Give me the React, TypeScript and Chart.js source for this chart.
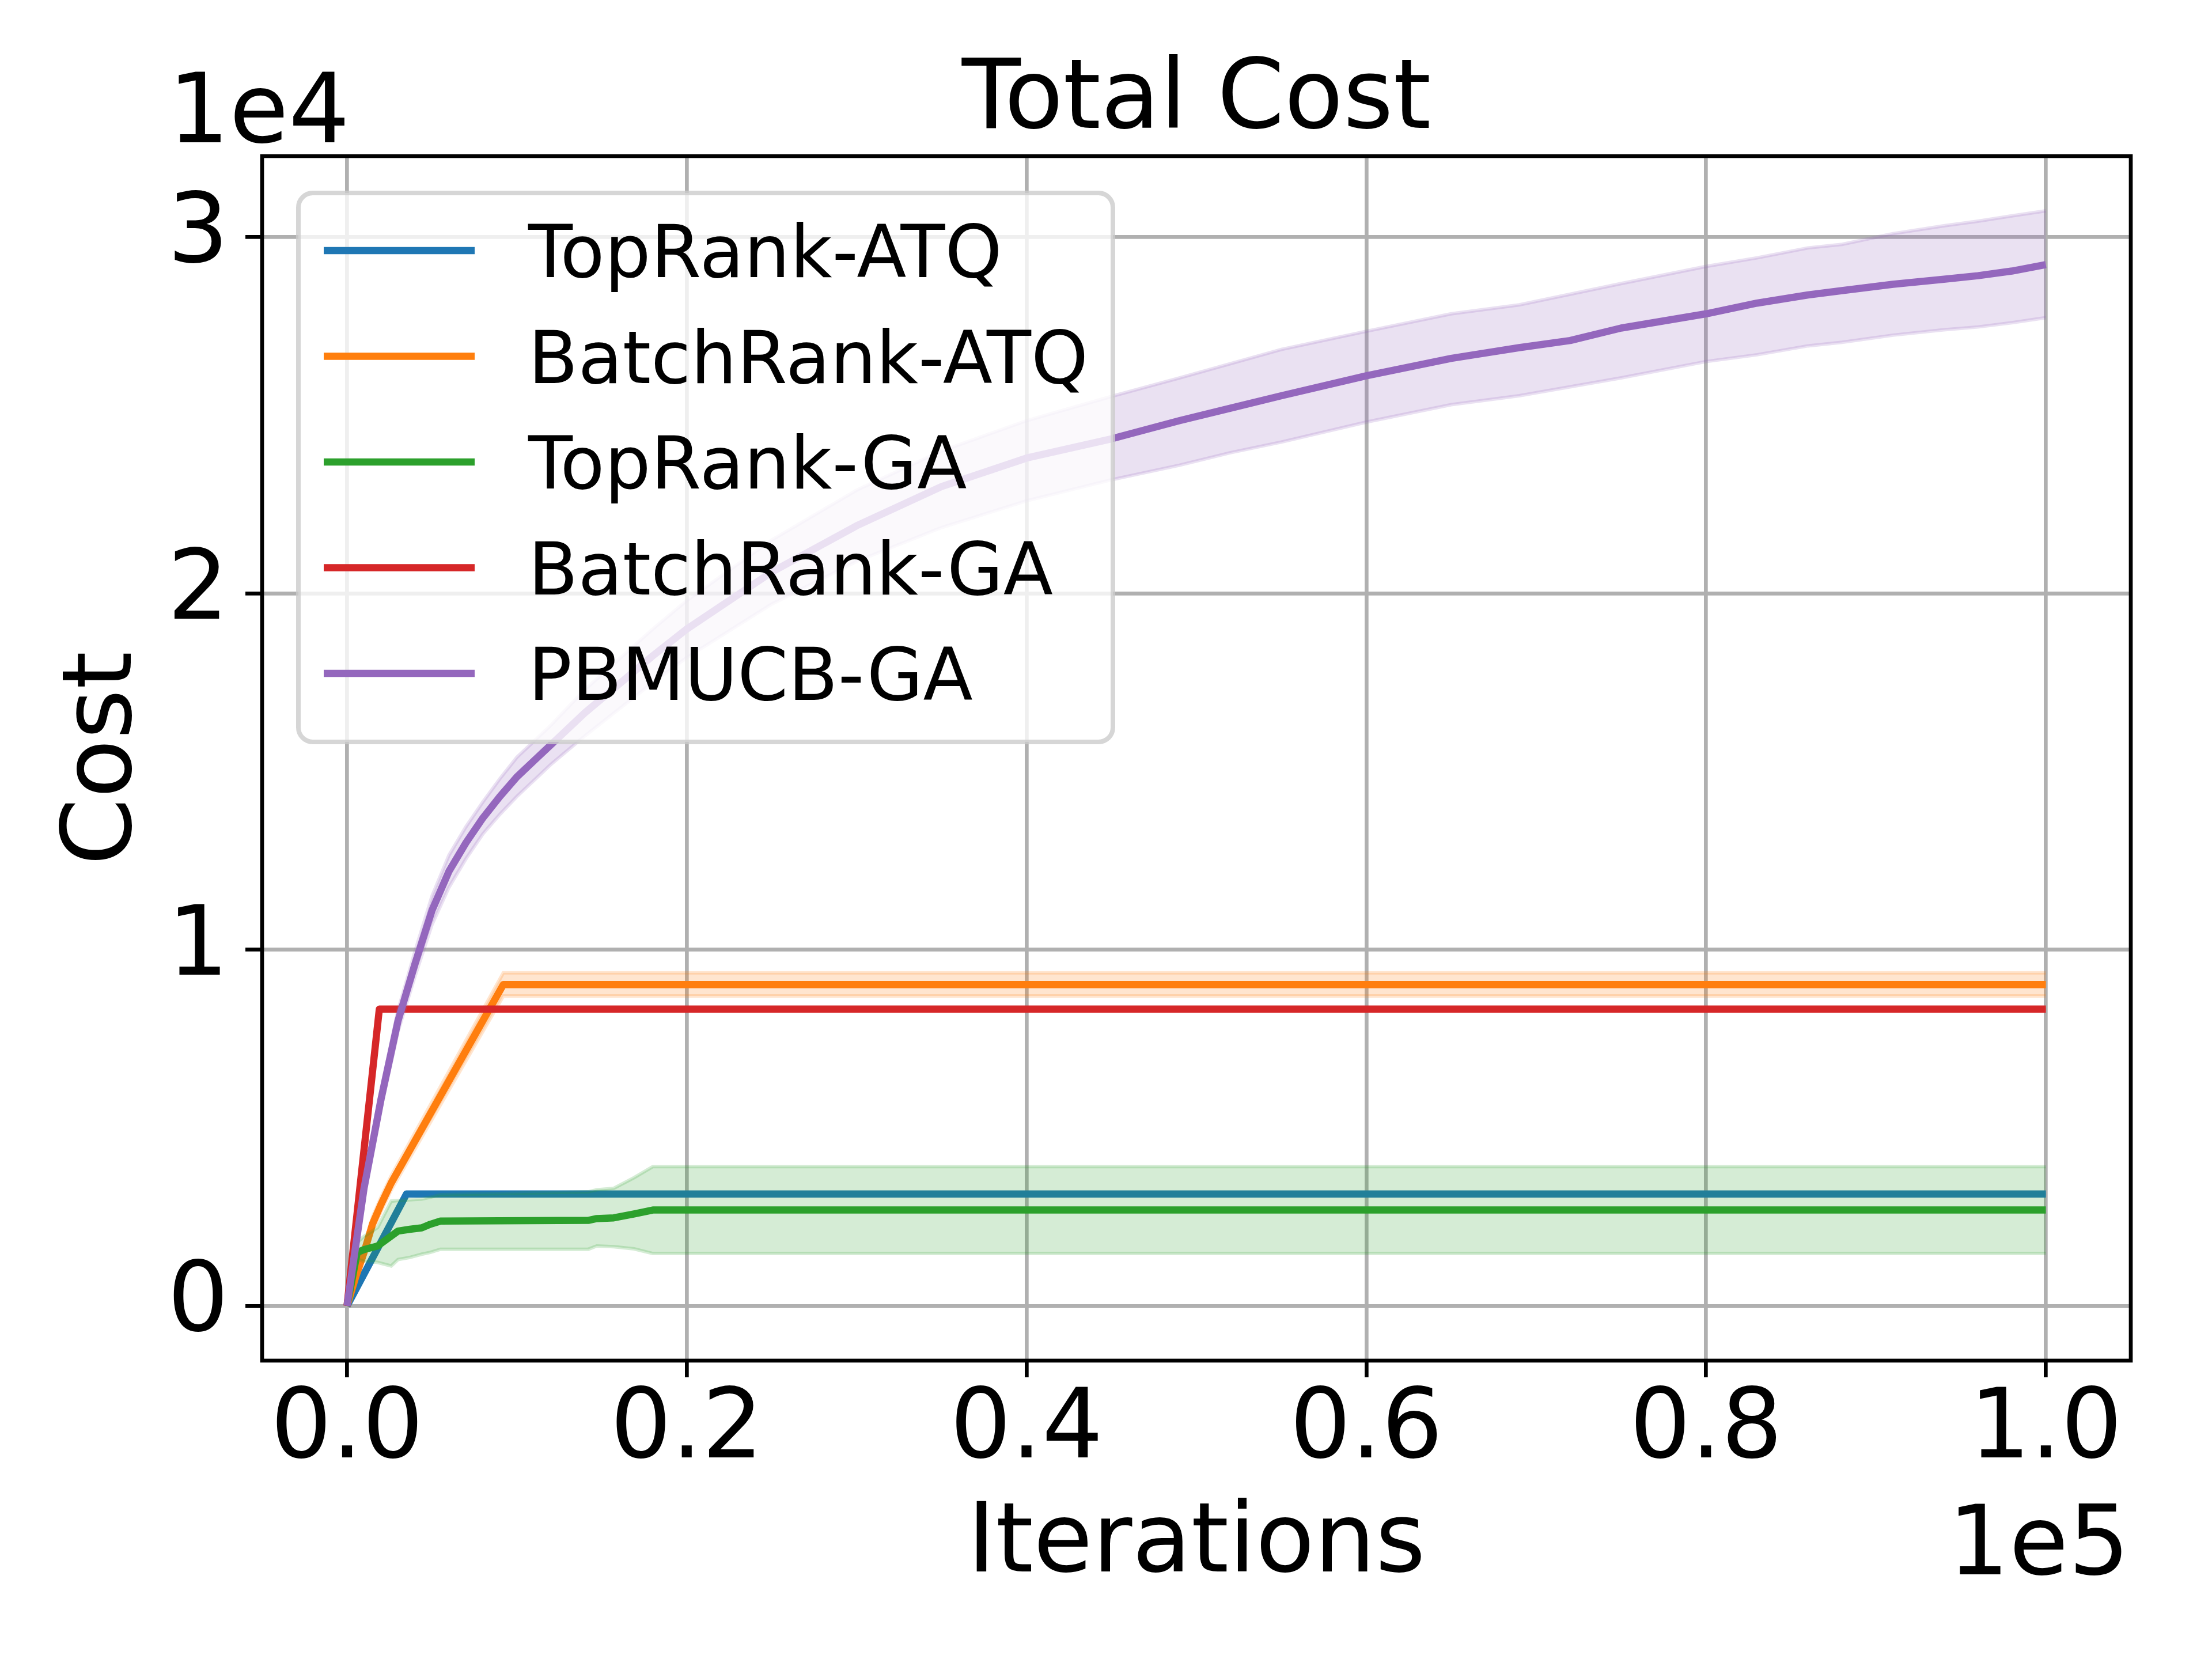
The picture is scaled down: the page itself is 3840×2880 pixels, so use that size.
import React, { useEffect, useRef } from "react";
import { Chart, registerables } from "chart.js";

Chart.register(...registerables);

const FONT = "'DejaVu Sans', 'Liberation Sans', sans-serif";

const LABELS = ["TopRank-ATQ", "BatchRank-ATQ", "TopRank-GA", "BatchRank-GA", "PBMUCB-GA"];
const COLORS = ["#1f77b4", "#ff7f0e", "#2ca02c", "#d62728", "#9467bd"];
const BAND_COLORS = [
  "rgba(31,119,180,0.2)",
  "rgba(255,127,14,0.2)",
  "rgba(44,160,44,0.2)",
  "rgba(214,39,40,0.2)",
  "rgba(148,103,189,0.2)",
];

const X_TICKS = [0, 20000, 40000, 60000, 80000, 100000];
const Y_TICKS = [0, 10000, 20000, 30000];

// TopRank-ATQ
const BLUE_X = [0, 3500, 100000];
const BLUE_MEAN = [0, 3140, 3140];
const BLUE_LOW = [0, 3115, 3115];
const BLUE_HIGH = [0, 3165, 3165];

// BatchRank-ATQ
const ORANGE_X = [0, 500, 1000, 1500, 2000, 2600, 9200, 100000];
const ORANGE_MEAN = [0, 800, 1500, 2300, 2850, 3450, 9020, 9020];
const ORANGE_LOW = [0, 700, 1350, 2100, 2650, 3250, 8700, 8700];
const ORANGE_HIGH = [0, 900, 1650, 2500, 3050, 3650, 9350, 9350];

// TopRank-GA
const GREEN_X = [0, 600, 1000, 1800, 2600, 3000, 3700, 4400, 4900, 5500, 14200, 14700, 15700, 16900, 18000, 100000];
const GREEN_MEAN = [0, 1500, 1580, 1680, 1960, 2100, 2150, 2190, 2290, 2380, 2400, 2450, 2470, 2580, 2690, 2690];
const GREEN_LOW = [0, 1310, 1250, 1220, 1120, 1300, 1360, 1450, 1500, 1590, 1590, 1680, 1660, 1600, 1470, 1470];
const GREEN_HIGH = [0, 1780, 1950, 2200, 2940, 2960, 2980, 3000, 3050, 3120, 3200, 3260, 3300, 3600, 3910, 3910];

// BatchRank-GA
const RED_X = [0, 1900, 100000];
const RED_MEAN = [0, 8330, 8330];
const RED_LOW = [0, 8310, 8310];
const RED_HIGH = [0, 8350, 8350];

// PBMUCB-GA
const PURPLE_X = [
  0, 500, 1000, 2000, 3000, 4000, 5000, 6000, 7000, 8000, 9000, 10000, 11000, 12000, 14000, 16000, 18000,
  20000, 25000, 30000, 35000, 40000, 45000, 49000, 52000, 55000, 60000, 65000, 69000, 72000, 75000, 80000,
  83000, 86000, 88000, 91000, 94000, 96000, 98000, 100000,
];
const PURPLE_MEAN = [
  0, 1650, 3300, 5800, 8000, 9600, 11100, 12200, 13000, 13700, 14300, 14850, 15300, 15750, 16650, 17450, 18250,
  19000, 20600, 21900, 23000, 23800, 24340, 24850, 25200, 25550, 26110, 26600, 26900, 27100, 27450, 27850,
  28150, 28380, 28500, 28680, 28820, 28920, 29050, 29230,
];
const PURPLE_LOW = [
  0, 1550, 3150, 5550, 7700, 9250, 10700, 11750, 12550, 13250, 13800, 14300, 14750, 15200, 16000, 16750, 17500,
  18200, 19700, 20900, 21850, 22600, 23190, 23600, 23950, 24250, 24810, 25300, 25550, 25800, 26050, 26510,
  26700, 26950, 27050, 27250, 27400, 27480, 27600, 27740,
];
const PURPLE_HIGH = [
  0, 1750, 3450, 6050, 8300, 9950, 11500, 12650, 13450, 14150, 14800, 15400, 15850, 16300, 17300, 18150, 19000,
  19800, 21500, 22900, 24000, 24850, 25530, 26050, 26450, 26850, 27360, 27850, 28100, 28400, 28700, 29180,
  29420, 29700, 29800, 30100, 30320, 30450, 30600, 30740,
];

const SERIES = [
  { x: BLUE_X, mean: BLUE_MEAN, low: BLUE_LOW, high: BLUE_HIGH },
  { x: ORANGE_X, mean: ORANGE_MEAN, low: ORANGE_LOW, high: ORANGE_HIGH },
  { x: GREEN_X, mean: GREEN_MEAN, low: GREEN_LOW, high: GREEN_HIGH },
  { x: RED_X, mean: RED_MEAN, low: RED_LOW, high: RED_HIGH },
  { x: PURPLE_X, mean: PURPLE_MEAN, low: PURPLE_LOW, high: PURPLE_HIGH },
];

const Y_MAX_DATA = 30740;
const X_MIN = -5000;
const X_MAX = 105000;

const pts = (xs: number[], ys: number[]) => xs.map((x, i) => ({ x, y: ys[i] }));

// frame, title, offset texts and legend drawn like matplotlib
const decorations = {
  id: "decorations",
  afterDatasetsDraw(chart: any) {
    const { ctx, chartArea: a } = chart;
    ctx.save();
    ctx.strokeStyle = "#000";
    ctx.lineWidth = 6.7;
    ctx.strokeRect(a.left, a.top, a.right - a.left, a.bottom - a.top);
    ctx.restore();
  },
  afterDraw(chart: any) {
    const { ctx, chartArea: a } = chart;
    ctx.save();
    ctx.fillStyle = "#000";
    ctx.textBaseline = "alphabetic";
    ctx.font = `167px ${FONT}`;
    ctx.textAlign = "center";
    ctx.fillText("Total Cost", (a.left + a.right) / 2, 222);
    ctx.textAlign = "left";
    ctx.fillText("1e4", 292, 247);
    ctx.textAlign = "right";
    ctx.fillText("1e5", a.right - 2, 2733);

    // legend
    const lx = a.left + 63;
    const ly = a.top + 64;
    const lw = 1414;
    const lh = 953;
    ctx.beginPath();
    ctx.roundRect(lx, ly, lw, lh, 25);
    ctx.fillStyle = "rgba(255,255,255,0.8)";
    ctx.fill();
    ctx.lineWidth = 8;
    ctx.strokeStyle = "rgba(204,204,204,0.8)";
    ctx.stroke();

    ctx.font = `126px ${FONT}`;
    ctx.textAlign = "left";
    LABELS.forEach((label, i) => {
      const y = ly + 100 + i * 183.5;
      ctx.beginPath();
      ctx.moveTo(lx + 44, y);
      ctx.lineTo(lx + 306, y);
      ctx.strokeStyle = COLORS[i];
      ctx.lineWidth = 12.5;
      ctx.stroke();
      ctx.fillStyle = "#000";
      ctx.fillText(label, lx + 399, y + 46);
    });
    ctx.restore();
  },
};

export default function App() {
  const chartRef = useRef<HTMLCanvasElement>(null);

  useEffect(() => {
    const canvas = chartRef.current;
    if (!canvas) return;

    const datasets: any[] = [];
    SERIES.forEach((s, i) => {
      datasets.push({
        label: LABELS[i],
        data: pts(s.x, s.mean),
        borderColor: COLORS[i],
        borderWidth: 12.5,
        borderJoinStyle: "round",
        fill: false,
        pointRadius: 0,
      });
      const lowIndex = datasets.length;
      datasets.push({
        label: LABELS[i] + " low",
        data: pts(s.x, s.low),
        borderColor: BAND_COLORS[i],
        borderWidth: 6,
        fill: false,
        pointRadius: 0,
      });
      datasets.push({
        label: LABELS[i] + " high",
        data: pts(s.x, s.high),
        borderColor: BAND_COLORS[i],
        backgroundColor: BAND_COLORS[i],
        borderWidth: 6,
        fill: lowIndex,
        pointRadius: 0,
      });
    });
    // later datasets on top, as in matplotlib
    datasets.forEach((d, i) => (d.order = datasets.length - i));

    const tickFont = { family: FONT, size: 167, lineHeight: 1 };

    const chart = new Chart(canvas, {
      type: "line",
      data: { datasets },
      plugins: [decorations],
      options: {
        animation: false,
        responsive: false,
        devicePixelRatio: 1,
        layout: { padding: { top: 271, right: 141, left: 0, bottom: 0 } },
        elements: { line: { tension: 0 }, point: { radius: 0 } },
        plugins: {
          legend: { display: false },
          title: { display: false },
          tooltip: { enabled: false },
        },
        scales: {
          x: {
            type: "linear",
            min: X_MIN,
            max: X_MAX,
            afterBuildTicks: (axis: any) => {
              axis.ticks = X_TICKS.map((v) => ({ value: v }));
            },
            afterFit: (axis: any) => {
              axis.height = 518;
            },
            border: { display: false },
            grid: {
              color: "#b0b0b0",
              lineWidth: 6.7,
              drawTicks: true,
              tickLength: 29,
              tickColor: "#000",
              tickWidth: 6.7,
            },
            ticks: {
              font: tickFont,
              color: "#000",
              padding: 12,
              autoSkip: false,
              maxRotation: 0,
              minRotation: 0,
              callback: (v: any) => (Number(v) / 100000).toFixed(1),
            },
            title: {
              display: true,
              text: "Iterations",
              color: "#000",
              font: tickFont,
              padding: { top: 0, bottom: 112 },
            },
          },
          y: {
            type: "linear",
            min: -0.05 * Y_MAX_DATA,
            max: 1.05 * Y_MAX_DATA,
            afterBuildTicks: (axis: any) => {
              axis.ticks = Y_TICKS.map((v) => ({ value: v }));
            },
            afterFit: (axis: any) => {
              axis.width = 455;
            },
            border: { display: false },
            grid: {
              color: "#b0b0b0",
              lineWidth: 6.7,
              drawTicks: true,
              tickLength: 29,
              tickColor: "#000",
              tickWidth: 6.7,
            },
            ticks: {
              font: tickFont,
              color: "#000",
              padding: 29,
              autoSkip: false,
              callback: (v: any) => String(Number(v) / 10000),
            },
            title: {
              display: true,
              text: "Cost",
              color: "#000",
              font: tickFont,
              padding: { top: 100, bottom: 0 },
            },
          },
        },
      },
    });

    return () => chart.destroy();
  }, []);

  return (
    <div style={{ position: "fixed", left: 0, top: 0, width: 3840, height: 2880, background: "#fff" }}>
      <canvas ref={chartRef} width={3840} height={2880} style={{ display: "block", width: 3840, height: 2880 }} />
    </div>
  );
}
